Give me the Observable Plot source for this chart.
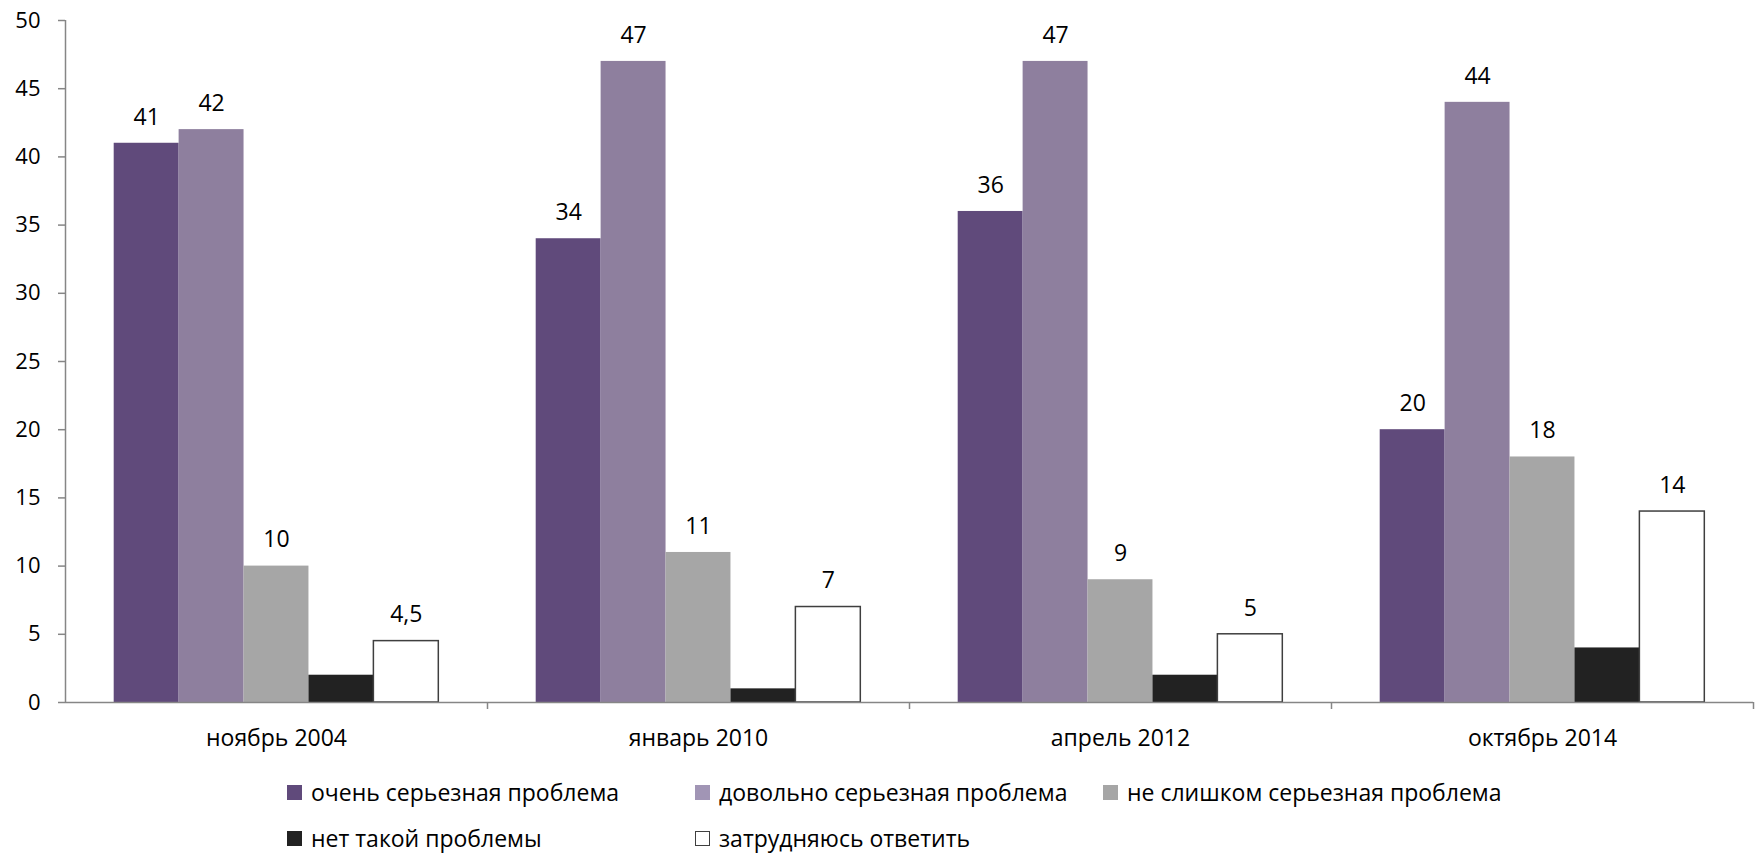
<!DOCTYPE html>
<html>
<head>
<meta charset="utf-8">
<script src="https://cdn.jsdelivr.net/npm/d3@7"></script>
<script src="https://cdn.jsdelivr.net/npm/@observablehq/plot@0.6"></script>
<style>
  html, body { margin: 0; padding: 0; background: #fff; overflow: hidden; }
  #wrap { position: relative; width: 1762px; height: 855px; font-family: "Open Sans", sans-serif; color: #000; }
  #legend { position: absolute; left: 287px; top: 780px; display: grid; grid-template-columns: 408px 408px 408px; row-gap: 22px; font-size: 23px; line-height: 24px; }
  .item { display: flex; align-items: center; white-space: nowrap; height: 24px; }
  .sw { width: 15px; height: 15px; margin-right: 9px; box-sizing: border-box; flex: none; }
</style>
</head>
<body>
<div id="wrap"><div id="chart"></div><div id="legend"></div></div>
<script>
// ---- data ----
const periods = ["ноябрь 2004", "январь 2010", "апрель 2012", "октябрь 2014"];
const seriesNames = ["очень серьезная проблема", "довольно серьезная проблема", "не слишком серьезная проблема", "нет такой проблемы", "затрудняюсь ответить"];
const verySerious   = [41, 34, 36, 20];
const ratherSerious = [42, 47, 47, 44];
const notVerySerious = [10, 11, 9, 18];
const noProblem     = [2, 1, 2, 4];
const hardToSay     = [4.5, 7, 5, 14];
const yTicks = [0, 5, 10, 15, 20, 25, 30, 35, 40, 45, 50];
const seriesColors = ["#604a7b", "#8e7f9e", "#a6a6a6", "#222222", "#ffffff"];

const seriesValues = [verySerious, ratherSerious, notVerySerious, noProblem, hardToSay];
const table = periods.flatMap((p, pi) => seriesNames.map((s, si) => ({period: p, series: s, i: si, value: seriesValues[si][pi]})));
const fmt = v => String(v).replace(".", ",");
const xDomain = [-0.75, seriesNames.length + 0.75];
const axisGray = "#868686";

const chart = Plot.plot({
  width: 1762,
  height: 760,
  marginLeft: 64,
  marginRight: 8,
  marginTop: 20,
  marginBottom: 58,
  style: {fontFamily: "Open Sans, sans-serif", fontSize: "22px", color: "#000", background: "#fff"},
  fx: {domain: periods, padding: 0, label: null},
  x: {domain: xDomain, axis: null},
  y: {domain: [0, 50], label: null},
  color: {domain: seriesNames, range: seriesColors},
  marks: [
    Plot.rectY(table.filter(d => d.i < 4), {fx: "period", x1: d => d.i, x2: d => d.i + 1, y1: 0, y2: "value", fill: "series"}),
    Plot.rectY(table.filter(d => d.i === 4), {fx: "period", x1: d => d.i, x2: d => d.i + 1, y1: 0, y2: "value", fill: "#fff", stroke: "#3f3f3f", strokeWidth: 1.5}),
    Plot.ruleY([0], {stroke: axisGray, strokeWidth: 1.5}),
    Plot.ruleX([periods[0]], {fx: d => d, x: () => xDomain[0], y1: 0, y2: 50, stroke: axisGray, strokeWidth: 1.5}),
    Plot.ruleX(periods.slice(1), {fx: d => d, x: () => xDomain[0], y1: 0, y2: 0, insetBottom: -7, stroke: axisGray, strokeWidth: 1.5}),
    Plot.ruleX([periods[periods.length - 1]], {fx: d => d, x: () => xDomain[1], y1: 0, y2: 0, insetBottom: -7, stroke: axisGray, strokeWidth: 1.5}),
    Plot.text(table.filter(d => d.i !== 3), {fx: "period", x: d => d.i + 0.5, y: "value", text: d => fmt(d.value), dy: -26, fontSize: 23, fill: "#000"}),
    Plot.axisY({ticks: yTicks, tickSize: 7, tickPadding: 18, fontSize: 22, stroke: axisGray, strokeWidth: 1.5, label: null}),
    Plot.axisFx({anchor: "bottom", tickSize: 0, tickPadding: 27, fontSize: 23, label: null})
  ]
});
document.getElementById("chart").appendChild(chart);

// ---- legend ----
const legend = document.getElementById("legend");
seriesNames.forEach((s, i) => {
  const item = document.createElement("div");
  item.className = "item";
  const sw = document.createElement("span");
  sw.className = "sw";
  sw.style.background = seriesColors[i];
  if (i === 4) sw.style.border = "1.5px solid #3f3f3f";
  if (i === 1) sw.style.background = "#a195b5";
  const t = document.createElement("span");
  t.textContent = s;
  item.appendChild(sw);
  item.appendChild(t);
  legend.appendChild(item);
});
</script>
</body>
</html>
